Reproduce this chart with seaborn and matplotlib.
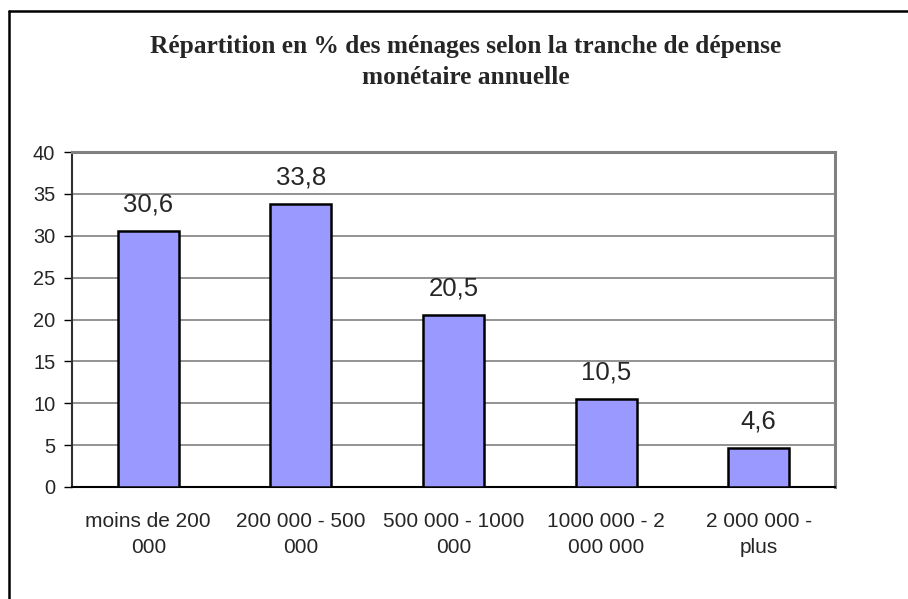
import matplotlib
matplotlib.use('Agg')
import matplotlib.pyplot as plt
import seaborn as sns
import pandas as pd
from matplotlib.lines import Line2D

# données
tranches = ['moins de 200\n000', '200 000 - 500\n000', '500 000 - 1000\n000',
            '1000 000 - 2\n000 000', '2 000 000 -\nplus']
pourcentages = [30.6, 33.8, 20.5, 10.5, 4.6]
etiquettes = ['30,6', '33,8', '20,5', '10,5', '4,6']
graduations = [0, 5, 10, 15, 20, 25, 30, 35, 40]

df = pd.DataFrame({'tranche': tranches, 'pct': pourcentages})

sns.set_style('white')
plt.rcParams['font.family'] = ['Liberation Sans', 'DejaVu Sans']

fig = plt.figure(figsize=(9.08, 5.99), dpi=100)
ax = fig.add_axes([72 / 908, 1 - 487 / 599, (835 - 72) / 908, (487 - 152) / 599])

sns.barplot(data=df, x='tranche', y='pct', color='#9999FF', saturation=1,
            edgecolor='black', linewidth=1.8, width=0.4, ax=ax, zorder=3)

ax.set_xlim(-0.5, len(tranches) - 0.5)
ax.set_ylim(0, 40)
ax.set_yticks(graduations)
ax.set_yticklabels([str(g) for g in graduations], fontsize=14.4)
ax.yaxis.grid(True, color='#808080', linewidth=1.2, zorder=0)
ax.set_axisbelow(True)
ax.set_xlabel('')
ax.set_ylabel('')

ax.set_xticks(range(len(tranches)))
ax.set_xticklabels(tranches, fontsize=15, linespacing=1.45)
ax.set_xticks([i - 0.5 for i in range(len(tranches) + 1)], minor=True)
ax.tick_params(axis='x', which='major', length=0, pad=18)
ax.tick_params(axis='x', which='minor', length=6, width=1, color='black', direction='out')
ax.tick_params(axis='y', length=6, width=1, color='black', direction='out', pad=6, left=True)

for side in ['top', 'right']:
    ax.spines[side].set_color('#808080')
    ax.spines[side].set_linewidth(2.2)
ax.spines['left'].set_color('#303030')
ax.spines['left'].set_linewidth(1.5)
ax.spines['bottom'].set_color('black')
ax.spines['bottom'].set_linewidth(1.5)

for i, (v, lab) in enumerate(zip(pourcentages, etiquettes)):
    ax.annotate(lab, (i, v), xytext=(0, 10.5), textcoords='offset points',
                ha='center', va='bottom', fontsize=18.5)

fig.text(466 / 908, 1 - 46 / 599,
         'Répartition en % des ménages selon la tranche de dépense',
         ha='center', va='center', fontsize=18.3, fontweight='bold',
         family=['Liberation Serif', 'DejaVu Serif'])
fig.text(466 / 908, 1 - 77 / 599, 'monétaire annuelle',
         ha='center', va='center', fontsize=18.3, fontweight='bold',
         family=['Liberation Serif', 'DejaVu Serif'])

# cadre extérieur (coupé à droite et en bas)
x0, y0 = 8.5 / 908, 1 - 10.5 / 599
fig.add_artist(Line2D([x0, x0], [y0, 0], color='black', linewidth=1.8))
fig.add_artist(Line2D([x0, 1], [y0, y0], color='black', linewidth=1.8))

fig.savefig('out.png', dpi=100)
